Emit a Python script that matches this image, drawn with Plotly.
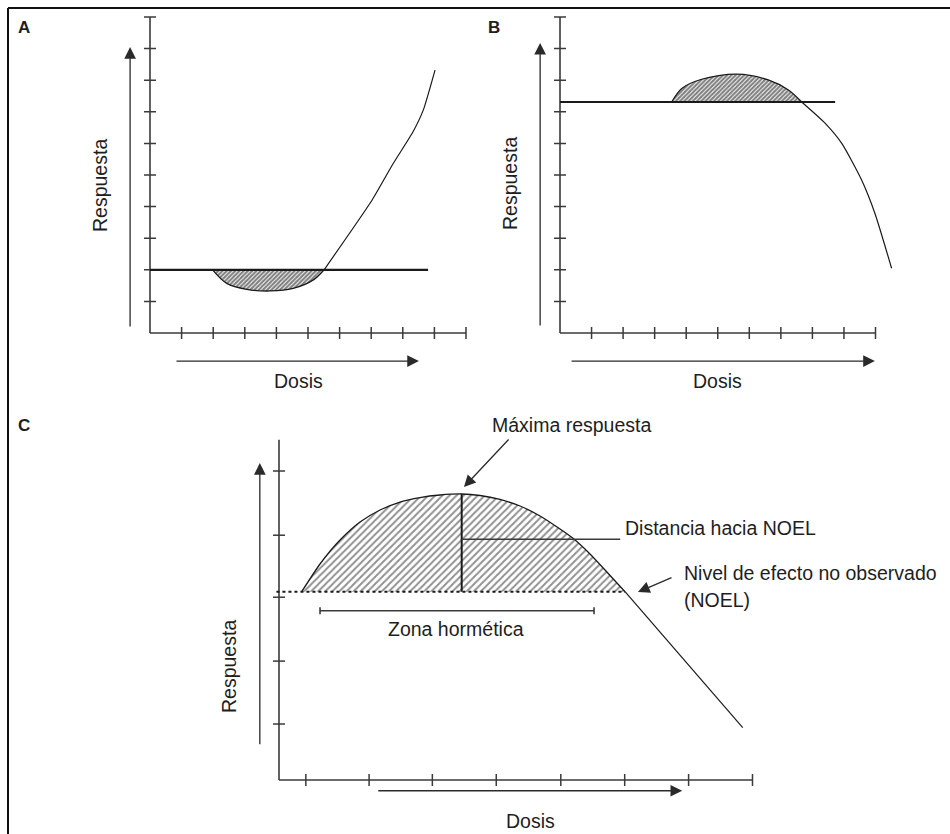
import plotly.graph_objects as go

W, H = 950, 834

# ---------------- data ----------------
# Panel A
a_xticks = [1, 2, 3, 4, 5, 6, 7, 8, 9, 10]
a_yticks = [1, 2, 3, 4, 5, 6, 7, 8, 9, 10]
a_base_y = 2.0
a_base_x_end = 8.8
a_dip_x = [1.98, 2.43, 3.06, 3.80, 4.53, 5.17, 5.51]
a_dip_y = [2.0, 1.57, 1.38, 1.33, 1.41, 1.68, 2.0]
a_rise_x = [5.51, 7.03, 7.70, 8.32, 8.65, 9.02]
a_rise_y = [2.0, 4.21, 5.37, 6.36, 7.06, 8.32]

# Panel B
b_xticks = [1, 2, 3, 4, 5, 6, 7, 8, 9, 10]
b_yticks = [1, 2, 3, 4, 5, 6, 7, 8, 9, 10]
b_base_y = 7.31
b_base_x_end = 8.72
b_hump_x = [3.54, 3.86, 4.49, 5.60, 6.60, 7.24, 7.66]
b_hump_y = [7.31, 7.74, 8.03, 8.19, 8.01, 7.69, 7.31]
b_fall_x = [7.66, 8.40, 8.93, 9.56, 9.98, 10.51]
b_fall_y = [7.31, 6.64, 6.00, 4.84, 3.79, 2.05]

# Panel C
c_xticks = [0.42, 1.41, 2.40, 3.40, 4.41, 5.41, 6.41, 7.41]
c_yticks = [0.885, 1.88, 2.89, 3.87, 4.885]
c_xaxis_end = 7.41
c_yaxis_end = 5.38
c_noel_y = 2.977
c_curve_x = [0.355, 0.642, 0.955, 1.268, 1.581, 1.894, 2.207, 2.520, 2.859,
             3.146, 3.459, 3.772, 4.085, 4.398, 4.601, 4.867, 5.102, 5.415]
c_curve_y = [2.977, 3.415, 3.794, 4.079, 4.269, 4.395, 4.466, 4.506, 4.522,
             4.498, 4.435, 4.332, 4.174, 3.968, 3.821, 3.573, 3.320, 2.977]
c_tail_x = [5.415, 7.257]
c_tail_y = [2.977, 0.827]
c_peak_x = 2.859
c_peak_y = 4.522
c_dist_y = 3.806
c_dist_x_end = 5.34
c_zone_x = [0.642, 4.93]
c_zone_y = 2.677

# ---------------- geometry ----------------
PA = dict(ox=150, oy=333, ux=31.6, uy=31.6, xr=[-3, 11], yr=[-2.5, 10.5])
PB = dict(ox=560, oy=333, ux=31.55, uy=31.6, xr=[-1.5, 11.5], yr=[-2.5, 10.5])
PC = dict(ox=279, oy=780, ux=63.9, uy=63.25, xr=[-1.0, 8.0], yr=[-0.8, 5.6])


def xdom(p):
    return [(p["ox"] + p["xr"][0] * p["ux"]) / W, (p["ox"] + p["xr"][1] * p["ux"]) / W]


def ydom(p):
    return [1 - (p["oy"] - p["yr"][0] * p["uy"]) / H, 1 - (p["oy"] - p["yr"][1] * p["uy"]) / H]


def px(x):
    return x / W


def py(y):
    return 1 - y / H


AXC = "#3a3a3a"
LINEC = "#1a1a1a"
TXT = "#1e1e1e"
FONT = "Liberation Sans, Arial, Helvetica, sans-serif"

fig = go.Figure()


def add_axes(p, xa, ya, xticks, yticks, xend, yend, tick_px=6):
    tx = tick_px / p["ux"]
    ty = tick_px / p["uy"]
    fig.add_trace(go.Scatter(x=[0, 0, None, 0, xend], y=[yend, 0, None, 0, 0], mode="lines",
                             line=dict(color=AXC, width=1.6), xaxis=xa, yaxis=ya, hoverinfo="skip"))
    xs, ys = [], []
    for t in xticks:
        xs += [t, t, None]
        ys += [-ty, ty, None]
    for t in yticks:
        xs += [-tx, tx, None]
        ys += [t, t, None]
    fig.add_trace(go.Scatter(x=xs, y=ys, mode="lines", line=dict(color=AXC, width=1.5),
                             xaxis=xa, yaxis=ya, hoverinfo="skip"))


def hatch_region(xs, ys, base, xa, ya, size, fg, solidity, smoothing=0.9):
    fig.add_trace(go.Scatter(x=xs, y=[base] * len(xs), mode="lines",
                             line=dict(color="rgba(0,0,0,0)", width=0),
                             xaxis=xa, yaxis=ya, hoverinfo="skip"))
    fig.add_trace(go.Scatter(x=xs, y=ys, mode="lines", fill="tonexty",
                             line=dict(color=LINEC, width=1.3, shape="spline", smoothing=smoothing),
                             fillpattern=dict(shape="/", size=size, solidity=solidity, fgcolor=fg,
                                              bgcolor="white"),
                             fillcolor="white", xaxis=xa, yaxis=ya, hoverinfo="skip"))


# ---------- Panel A ----------
add_axes(PA, "x", "y", a_xticks, a_yticks, 10, 10)
hatch_region(a_dip_x, a_dip_y, a_base_y, "x", "y", 3, "#000000", 0.7)
fig.add_trace(go.Scatter(x=a_rise_x, y=a_rise_y, mode="lines",
                         line=dict(color=LINEC, width=1.2, shape="spline", smoothing=0.5),
                         xaxis="x", yaxis="y", hoverinfo="skip"))
fig.add_trace(go.Scatter(x=[0, a_base_x_end], y=[a_base_y, a_base_y], mode="lines",
                         line=dict(color=LINEC, width=2.2), xaxis="x", yaxis="y", hoverinfo="skip"))

# ---------- Panel B ----------
add_axes(PB, "x2", "y2", b_xticks, b_yticks, 10, 10)
hatch_region(b_hump_x, b_hump_y, b_base_y, "x2", "y2", 3, "#000000", 0.7)
fig.add_trace(go.Scatter(x=b_fall_x, y=b_fall_y, mode="lines",
                         line=dict(color=LINEC, width=1.2, shape="spline", smoothing=0.6),
                         xaxis="x2", yaxis="y2", hoverinfo="skip"))
fig.add_trace(go.Scatter(x=[0, b_base_x_end], y=[b_base_y, b_base_y], mode="lines",
                         line=dict(color=LINEC, width=2.2), xaxis="x2", yaxis="y2", hoverinfo="skip"))

# ---------- Panel C ----------
add_axes(PC, "x3", "y3", c_xticks, c_yticks, c_xaxis_end, c_yaxis_end)
hatch_region(c_curve_x, c_curve_y, c_noel_y, "x3", "y3", 5, "#222222", 0.4, smoothing=0.6)
fig.add_trace(go.Scatter(x=c_tail_x, y=c_tail_y, mode="lines", line=dict(color=LINEC, width=1.2),
                         xaxis="x3", yaxis="y3", hoverinfo="skip"))
fig.add_trace(go.Scatter(x=[-0.04, c_curve_x[-1]], y=[c_noel_y, c_noel_y], mode="lines",
                         line=dict(color=LINEC, width=2, dash="dot"), xaxis="x3", yaxis="y3",
                         hoverinfo="skip"))
fig.add_trace(go.Scatter(x=[c_peak_x, c_peak_x], y=[c_noel_y, c_peak_y], mode="lines",
                         line=dict(color=LINEC, width=2), xaxis="x3", yaxis="y3", hoverinfo="skip"))
fig.add_trace(go.Scatter(x=[c_peak_x, c_dist_x_end], y=[c_dist_y, c_dist_y], mode="lines",
                         line=dict(color=AXC, width=1.4), xaxis="x3", yaxis="y3", hoverinfo="skip"))
cap = 3.5 / PC["uy"]
fig.add_trace(go.Scatter(x=[c_zone_x[0], c_zone_x[1], None, c_zone_x[0], c_zone_x[0], None,
                            c_zone_x[1], c_zone_x[1]],
                         y=[c_zone_y, c_zone_y, None, c_zone_y - cap, c_zone_y + cap, None,
                            c_zone_y - cap, c_zone_y + cap],
                         mode="lines", line=dict(color=AXC, width=1.6), xaxis="x3", yaxis="y3",
                         hoverinfo="skip"))

# ---------- arrows ----------
arrows = [
    ("x", "y", -0.63, 0.16, -0.63, 9.05),
    ("x", "y", 0.79, -0.89, 8.51, -0.89),
    ("x2", "y2", -0.63, 0.19, -0.63, 9.18),
    ("x2", "y2", 0.32, -0.89, 9.98, -0.89),
    ("x3", "y3", -0.30, 0.54, -0.30, 5.01),
    ("x3", "y3", 1.53, -0.17, 6.31, -0.17),
    ("x3", "y3", 3.615, 5.407, 2.895, 4.632),
    ("x3", "y3", 6.166, 3.21, 5.618, 2.972),
]
annotations = []
for xr, yr, tx, ty, hx, hy in arrows:
    annotations.append(dict(x=hx, y=hy, ax=tx, ay=ty, xref=xr, yref=yr, axref=xr, ayref=yr,
                            text="", showarrow=True, arrowhead=2, arrowsize=1.8, arrowwidth=1.3,
                            arrowcolor="#2a2a2a", standoff=0, startstandoff=0))


def label(text, x, y, size=19.5, angle=0, xanchor="center", bold=False):
    annotations.append(dict(text=("<b>%s</b>" % text) if bold else text, x=px(x), y=py(y),
                            xref="paper", yref="paper", showarrow=False, textangle=angle,
                            xanchor=xanchor, yanchor="middle",
                            font=dict(family=FONT, size=size, color=TXT)))


label("A", 24, 27, size=17, bold=True)
label("B", 494, 27, size=17, bold=True)
label("C", 24, 425, size=17, bold=True)
label("Respuesta", 100, 186, angle=-90)
label("Respuesta", 510, 184, angle=-90)
label("Respuesta", 229, 667, angle=-90)
label("Dosis", 298, 381)
label("Dosis", 717, 381)
label("Dosis", 530, 821)
label("Máxima respuesta", 571, 425)
label("Distancia hacia NOEL", 623, 528, xanchor="left")
label("Nivel de efecto no observado", 682, 573, xanchor="left")
label("(NOEL)", 682, 600, xanchor="left")
label("Zona hormética", 456, 629)

shapes = [
    dict(type="line", xref="paper", yref="paper", x0=px(8), y0=py(8), x1=1, y1=py(8),
         line=dict(color="#111111", width=2)),
    dict(type="line", xref="paper", yref="paper", x0=px(8), y0=py(8), x1=px(8), y1=0,
         line=dict(color="#111111", width=2)),
]

ax_common = dict(visible=False, showgrid=False, zeroline=False, fixedrange=True)
fig.update_layout(
    width=W, height=H, margin=dict(l=0, r=0, t=0, b=0),
    paper_bgcolor="white", plot_bgcolor="rgba(0,0,0,0)", showlegend=False,
    xaxis=dict(domain=xdom(PA), range=PA["xr"], anchor="y", **ax_common),
    yaxis=dict(domain=ydom(PA), range=PA["yr"], anchor="x", **ax_common),
    xaxis2=dict(domain=xdom(PB), range=PB["xr"], anchor="y2", **ax_common),
    yaxis2=dict(domain=ydom(PB), range=PB["yr"], anchor="x2", **ax_common),
    xaxis3=dict(domain=xdom(PC), range=PC["xr"], anchor="y3", **ax_common),
    yaxis3=dict(domain=ydom(PC), range=PC["yr"], anchor="x3", **ax_common),
    annotations=annotations, shapes=shapes,
)

fig.write_html("out.html", config={"displayModeBar": False},
               post_script="document.body.style.margin='0';document.body.style.overflow='hidden';")
